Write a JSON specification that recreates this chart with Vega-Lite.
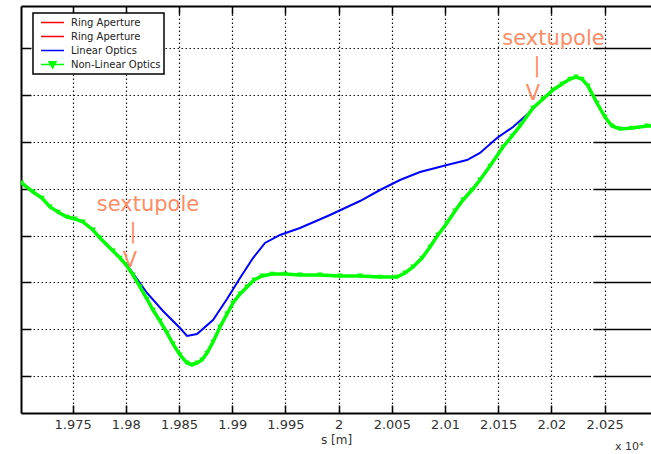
{
  "$schema": "https://vega.github.io/schema/vega-lite/v6.json",
  "width": 630,
  "height": 407,
  "autosize": {"type": "none"},
  "padding": {"left": 21, "top": 6, "right": 0, "bottom": 41},
  "background": "white",
  "config": {"view": {"stroke": null}, "font": "DejaVu Sans"},
  "datasets": {
    "curves": [
      {"series": "Linear Optics", "s": 1.980113, "v": 2.372},
      {"series": "Linear Optics", "s": 1.981334, "v": 1.987},
      {"series": "Linear Optics", "s": 1.981992, "v": 1.774},
      {"series": "Linear Optics", "s": 1.983496, "v": 1.389},
      {"series": "Linear Optics", "s": 1.985093, "v": 1.026},
      {"series": "Linear Optics", "s": 1.985751, "v": 0.855},
      {"series": "Linear Optics", "s": 1.986691, "v": 0.897},
      {"series": "Linear Optics", "s": 1.988195, "v": 1.197},
      {"series": "Linear Optics", "s": 1.989511, "v": 1.645},
      {"series": "Linear Optics", "s": 1.990732, "v": 2.094},
      {"series": "Linear Optics", "s": 1.991954, "v": 2.521},
      {"series": "Linear Optics", "s": 1.993082, "v": 2.842},
      {"series": "Linear Optics", "s": 1.994491, "v": 3.013},
      {"series": "Linear Optics", "s": 1.996371, "v": 3.162},
      {"series": "Linear Optics", "s": 1.99919, "v": 3.44},
      {"series": "Linear Optics", "s": 2.00201, "v": 3.739},
      {"series": "Linear Optics", "s": 2.003889, "v": 3.974},
      {"series": "Linear Optics", "s": 2.005769, "v": 4.188},
      {"series": "Linear Optics", "s": 2.007649, "v": 4.359},
      {"series": "Linear Optics", "s": 2.010186, "v": 4.509},
      {"series": "Linear Optics", "s": 2.012066, "v": 4.615},
      {"series": "Linear Optics", "s": 2.013287, "v": 4.765},
      {"series": "Linear Optics", "s": 2.014885, "v": 5.085},
      {"series": "Linear Optics", "s": 2.016389, "v": 5.321},
      {"series": "Linear Optics", "s": 2.017987, "v": 5.641},
      {"series": "Non-Linear Optics", "s": 1.970198, "v": 4.124},
      {"series": "Non-Linear Optics", "s": 1.971278, "v": 3.932},
      {"series": "Non-Linear Optics", "s": 1.972124, "v": 3.803},
      {"series": "Non-Linear Optics", "s": 1.972876, "v": 3.611},
      {"series": "Non-Linear Optics", "s": 1.973628, "v": 3.504},
      {"series": "Non-Linear Optics", "s": 1.974474, "v": 3.397},
      {"series": "Non-Linear Optics", "s": 1.975226, "v": 3.355},
      {"series": "Non-Linear Optics", "s": 1.975977, "v": 3.291},
      {"series": "Non-Linear Optics", "s": 1.976917, "v": 3.12},
      {"series": "Non-Linear Optics", "s": 1.977575, "v": 2.949},
      {"series": "Non-Linear Optics", "s": 1.978797, "v": 2.671},
      {"series": "Non-Linear Optics", "s": 1.979455, "v": 2.521},
      {"series": "Non-Linear Optics", "s": 1.980113, "v": 2.35},
      {"series": "Non-Linear Optics", "s": 1.980676, "v": 2.158},
      {"series": "Non-Linear Optics", "s": 1.981334, "v": 1.902},
      {"series": "Non-Linear Optics", "s": 1.981992, "v": 1.645},
      {"series": "Non-Linear Optics", "s": 1.982556, "v": 1.41},
      {"series": "Non-Linear Optics", "s": 1.983214, "v": 1.175},
      {"series": "Non-Linear Optics", "s": 1.983872, "v": 0.919},
      {"series": "Non-Linear Optics", "s": 1.984435, "v": 0.684},
      {"series": "Non-Linear Optics", "s": 1.985093, "v": 0.449},
      {"series": "Non-Linear Optics", "s": 1.985751, "v": 0.278},
      {"series": "Non-Linear Optics", "s": 1.986221, "v": 0.235},
      {"series": "Non-Linear Optics", "s": 1.986691, "v": 0.278},
      {"series": "Non-Linear Optics", "s": 1.987161, "v": 0.342},
      {"series": "Non-Linear Optics", "s": 1.987631, "v": 0.491},
      {"series": "Non-Linear Optics", "s": 1.988195, "v": 0.726},
      {"series": "Non-Linear Optics", "s": 1.988853, "v": 1.047},
      {"series": "Non-Linear Optics", "s": 1.989511, "v": 1.325},
      {"series": "Non-Linear Optics", "s": 1.990074, "v": 1.56},
      {"series": "Non-Linear Optics", "s": 1.990732, "v": 1.752},
      {"series": "Non-Linear Optics", "s": 1.99139, "v": 1.902},
      {"series": "Non-Linear Optics", "s": 1.992048, "v": 2.051},
      {"series": "Non-Linear Optics", "s": 1.9928, "v": 2.137},
      {"series": "Non-Linear Optics", "s": 1.99374, "v": 2.179},
      {"series": "Non-Linear Optics", "s": 1.994961, "v": 2.179},
      {"series": "Non-Linear Optics", "s": 1.996371, "v": 2.158},
      {"series": "Non-Linear Optics", "s": 1.998251, "v": 2.158},
      {"series": "Non-Linear Optics", "s": 2.00013, "v": 2.137},
      {"series": "Non-Linear Optics", "s": 2.00201, "v": 2.137},
      {"series": "Non-Linear Optics", "s": 2.003889, "v": 2.115},
      {"series": "Non-Linear Optics", "s": 2.005487, "v": 2.115},
      {"series": "Non-Linear Optics", "s": 2.006239, "v": 2.201},
      {"series": "Non-Linear Optics", "s": 2.006991, "v": 2.329},
      {"series": "Non-Linear Optics", "s": 2.007837, "v": 2.521},
      {"series": "Non-Linear Optics", "s": 2.008588, "v": 2.756},
      {"series": "Non-Linear Optics", "s": 2.00934, "v": 3.013},
      {"series": "Non-Linear Optics", "s": 2.010186, "v": 3.269},
      {"series": "Non-Linear Optics", "s": 2.010938, "v": 3.526},
      {"series": "Non-Linear Optics", "s": 2.01169, "v": 3.761},
      {"series": "Non-Linear Optics", "s": 2.012536, "v": 3.974},
      {"series": "Non-Linear Optics", "s": 2.013287, "v": 4.188},
      {"series": "Non-Linear Optics", "s": 2.014227, "v": 4.487},
      {"series": "Non-Linear Optics", "s": 2.015449, "v": 4.893},
      {"series": "Non-Linear Optics", "s": 2.016295, "v": 5.128},
      {"series": "Non-Linear Optics", "s": 2.017047, "v": 5.342},
      {"series": "Non-Linear Optics", "s": 2.018268, "v": 5.726},
      {"series": "Non-Linear Optics", "s": 2.019208, "v": 5.919},
      {"series": "Non-Linear Optics", "s": 2.020148, "v": 6.111},
      {"series": "Non-Linear Optics", "s": 2.020994, "v": 6.239},
      {"series": "Non-Linear Optics", "s": 2.021746, "v": 6.346},
      {"series": "Non-Linear Optics", "s": 2.02231, "v": 6.389},
      {"series": "Non-Linear Optics", "s": 2.022873, "v": 6.346},
      {"series": "Non-Linear Optics", "s": 2.023437, "v": 6.197},
      {"series": "Non-Linear Optics", "s": 2.024283, "v": 5.833},
      {"series": "Non-Linear Optics", "s": 2.025035, "v": 5.534},
      {"series": "Non-Linear Optics", "s": 2.025692, "v": 5.342},
      {"series": "Non-Linear Optics", "s": 2.026444, "v": 5.278},
      {"series": "Non-Linear Optics", "s": 2.027572, "v": 5.299},
      {"series": "Non-Linear Optics", "s": 2.028982, "v": 5.342},
      {"series": "Non-Linear Optics", "s": 2.02975, "v": 5.342}
    ],
    "notes": [
      {"s": 1.982086, "v": 3.526, "label": "sextupole"},
      {"s": 1.980676, "v": 2.938, "label": "|"},
      {"s": 1.980394, "v": 2.329, "label": "V"},
      {"s": 2.020195, "v": 7.083, "label": "sextupole"},
      {"s": 2.018644, "v": 6.496, "label": "|"},
      {"s": 2.018268, "v": 5.897, "label": "V"}
    ],
    "mult": [{"s": 2.02597, "v": -1.58, "label": "x 10⁴"}]
  },
  "layer": [
    {
      "data": {"name": "curves"},
      "transform": [{"filter": "datum.series === 'Linear Optics'"}],
      "mark": {"type": "line", "strokeWidth": 2, "clip": true},
      "encoding": {
        "x": {
          "field": "s", "type": "quantitative",
          "scale": {"domain": [1.97015, 2.02936], "nice": false, "zero": false},
          "axis": {
            "orient": "bottom",
            "values": [1.975, 1.98, 1.985, 1.99, 1.995, 2, 2.005, 2.01, 2.015, 2.02, 2.025],
            "format": "~g",
            "grid": true, "gridColor": "#111", "gridDash": [1.5, 2.5], "gridWidth": 1.2,
            "tickSize": -8, "tickColor": "#000", "tickWidth": 1.5,
            "domainColor": "#000", "domainWidth": 2,
            "labelFont": "DejaVu Sans", "labelFontSize": 13, "labelColor": "#333",
            "labelPadding": 13, "labelFlush": false, "labelOverlap": false,
            "title": "s [m]", "titleFont": "DejaVu Sans", "titleFontSize": 12,
            "titleFontWeight": "normal", "titleColor": "#333", "titlePadding": 3
          }
        },
        "y": {
          "field": "v", "type": "quantitative",
          "scale": {"domain": [-0.791, 7.906], "nice": false, "zero": false},
          "axis": {
            "orient": "left",
            "values": [0, 1, 2, 3, 4, 5, 6, 7],
            "grid": true, "gridColor": "#111", "gridDash": [1.5, 2.5], "gridWidth": 1.2,
            "labels": false,
            "tickSize": -10, "tickColor": "#000", "tickWidth": 1.5,
            "domainColor": "#000", "domainWidth": 2,
            "title": null
          }
        },
        "color": {
          "field": "series", "type": "nominal",
          "scale": {
            "domain": ["Ring Aperture", "Ring Aperture ", "Linear Optics", "Non-Linear Optics"],
            "range": ["#ff0000", "#ff0000", "#0000ff", "#00ff00"]
          },
          "legend": {
            "orient": "none", "legendX": 12, "legendY": 7,
            "title": null,
            "padding": 3, "symbolOffset": 4,
            "strokeColor": "#000", "fillColor": "#fff",
            "symbolType": "stroke", "symbolSize": 529, "symbolStrokeWidth": 1.5,
            "labelFont": "DejaVu Sans", "labelFontSize": 10, "labelColor": "#222",
            "labelOffset": 6, "clipHeight": 13, "rowPadding": 1,
            "encode": {
              "legend": {"update": {"strokeWidth": {"value": 1.5}}},
              "symbols": {
                "update": {
                  "shape": {"signal": "datum.value === 'Non-Linear Optics' ? 'M-1,0L1,0M-0.3,-0.25L0.3,-0.25L0,0.3Z' : 'stroke'"},
                  "fill": {"signal": "datum.value === 'Non-Linear Optics' ? '#00ff00' : 'transparent'"}
                }
              }
            }
          }
        }
      }
    },
    {
      "data": {"name": "curves"},
      "transform": [{"filter": "datum.series === 'Non-Linear Optics'"}],
      "mark": {"type": "line", "strokeWidth": 3.5, "clip": true},
      "encoding": {
        "x": {"field": "s", "type": "quantitative", "axis": null},
        "y": {"field": "v", "type": "quantitative", "axis": null},
        "color": {"field": "series", "type": "nominal"}
      }
    },
    {
      "data": {"name": "curves"},
      "transform": [{"filter": "datum.series === 'Non-Linear Optics'"}],
      "mark": {"type": "point", "shape": "triangle-down", "filled": true, "size": 30, "color": "#00ff00", "opacity": 1, "clip": true},
      "encoding": {
        "x": {"field": "s", "type": "quantitative", "axis": null},
        "y": {"field": "v", "type": "quantitative", "axis": null}
      }
    },
    {
      "data": {"name": "notes"},
      "mark": {"type": "text", "font": "DejaVu Sans", "fontSize": 21, "color": "#ff8c64", "align": "center", "baseline": "alphabetic"},
      "encoding": {
        "x": {
          "field": "s", "type": "quantitative",
          "axis": {
            "orient": "top",
            "values": [1.975, 1.98, 1.985, 1.99, 1.995, 2, 2.005, 2.01, 2.015, 2.02, 2.025],
            "grid": false, "labels": false,
            "tickSize": -8, "tickColor": "#000", "tickWidth": 1.5,
            "domainColor": "#000", "domainWidth": 2,
            "title": null
          }
        },
        "y": {
          "field": "v", "type": "quantitative",
          "axis": {
            "orient": "right",
            "values": [0, 1, 2, 3, 4, 5, 6, 7],
            "grid": false, "labels": false, "domain": false,
            "tickSize": -58, "tickColor": "#000", "tickWidth": 1.5,
            "title": null
          }
        },
        "text": {"field": "label"}
      }
    },
    {
      "data": {"name": "mult"},
      "mark": {"type": "text", "font": "DejaVu Sans", "fontSize": 11, "color": "#333", "align": "left", "baseline": "alphabetic", "clip": false},
      "encoding": {
        "x": {"field": "s", "type": "quantitative", "axis": null},
        "y": {"field": "v", "type": "quantitative", "axis": null},
        "text": {"field": "label"}
      }
    }
  ],
  "resolve": {"axis": {"x": "independent", "y": "independent"}}
}
